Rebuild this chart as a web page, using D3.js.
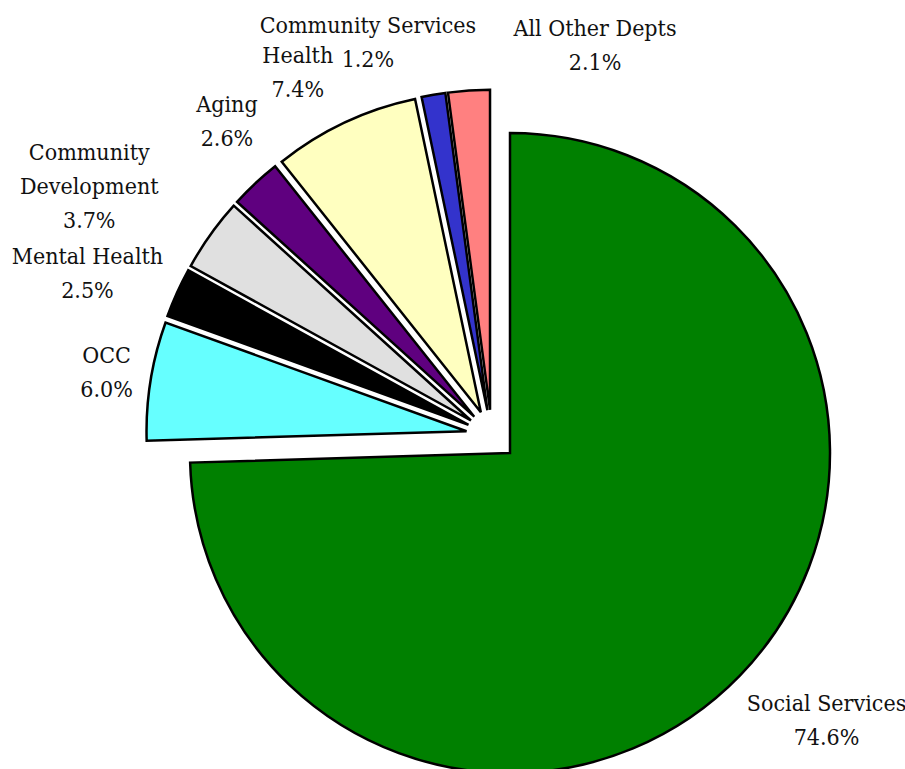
<!DOCTYPE html>
<html>
<head>
<meta charset="utf-8">
<script src="https://cdn.jsdelivr.net/npm/d3@7"></script>
<style>
  body { margin: 0; background: #fff; }
</style>
</head>
<body>
<svg id="chart" width="905" height="769"></svg>
<script>
// department budget shares, clockwise from 12 o'clock
var departments = ['Social Services', 'OCC', 'Mental Health', 'Community Development', 'Aging', 'Health', 'Community Services', 'All Other Depts'];
var shares = [74.6, 6.0, 2.5, 3.7, 2.6, 7.4, 1.2, 2.1];
var labelLines = [
  ['Social Services', '74.6%'],
  ['OCC', '6.0%'],
  ['Mental Health', '2.5%'],
  ['Community', 'Development', '3.7%'],
  ['Aging', '2.6%'],
  ['Health', '7.4%'],
  ['Community Services', '1.2%'],
  ['All Other Depts', '2.1%']
];
var sliceColors = ['#008000', '#66ffff', '#000000', '#e0e0e0', '#5f007f', '#ffffc0', '#3333cc', '#ff8080'];

// layout
var center = [491.7, 435.3], radius = 320, explode = 25.5, labelRadius = 390, lineHeight = 34;
// hand nudges so labels sit where the original placed them
var labelNudge = [[55, 13], [0, -2], [-49, -1], [-85, -23], [2, -30], [-28, -10], [-58, -9], [129, -1]];

var svg = d3.select('#chart');
var g = svg.append('g').attr('transform', 'translate(' + center + ')');

var pie = d3.pie().sort(null).value(function(d) { return d; });
var arcs = pie(shares);
var arc = d3.arc().innerRadius(0).outerRadius(radius);

function dir(d) {
  var a = (d.startAngle + d.endAngle) / 2;
  return [Math.sin(a), -Math.cos(a)];
}

g.selectAll('path.slice')
  .data(arcs)
  .enter().append('path')
  .attr('class', 'slice')
  .attr('transform', function(d) { var v = dir(d); return 'translate(' + [v[0] * explode, v[1] * explode] + ')'; })
  .attr('d', arc)
  .attr('fill', function(d, i) { return sliceColors[i]; })
  .attr('stroke', '#000')
  .attr('stroke-width', 2.5)
  .attr('stroke-linejoin', 'miter');

var labels = g.selectAll('text.lbl')
  .data(arcs)
  .enter().append('text')
  .attr('class', 'lbl')
  .style('font-family', "'DejaVu Serif Condensed', 'DejaVu Serif', serif")
  .style('font-stretch', 'condensed')
  .style('font-size', '23px')
  .attr('fill', '#111')
  .attr('text-anchor', 'middle')
  .attr('transform', function(d, i) {
    var v = dir(d), n = labelNudge[i];
    return 'translate(' + [v[0] * labelRadius + n[0], v[1] * labelRadius + n[1]] + ')';
  });

labels.each(function(d, i) {
  var lines = labelLines[i];
  var top = -(lines.length - 1) * lineHeight / 2;
  d3.select(this).selectAll('tspan')
    .data(lines)
    .enter().append('tspan')
    .attr('x', 0)
    .attr('y', function(s, j) { return top + j * lineHeight; })
    .attr('dy', '0.35em')
    .text(function(s) { return s; });
});
</script>
</body>
</html>
